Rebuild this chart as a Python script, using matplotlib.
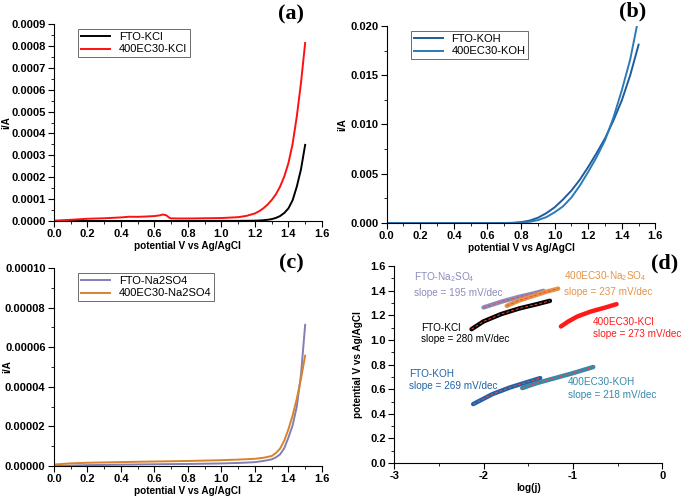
"""Four-panel LSV / Tafel figure (a)-(d)."""

import numpy as np
import matplotlib.pyplot as plt
from matplotlib.ticker import MultipleLocator, FormatStrFormatter

plt.rcParams['font.family'] = ['Liberation Sans', 'DejaVu Sans']
plt.rcParams['mathtext.fontset'] = 'custom'
plt.rcParams['mathtext.rm'] = 'Liberation Sans'

# (a) KCl
x_a = [0.0, 0.1, 0.2, 0.3, 0.4, 0.45, 0.5, 0.55, 0.6, 0.63, 0.65, 0.67, 0.69,
       0.7, 0.75, 0.8, 0.9, 1.0, 1.1, 1.15, 1.2, 1.225, 1.25, 1.275, 1.3, 1.325,
       1.35, 1.375, 1.4, 1.425, 1.45, 1.475, 1.5]
fto_kcl = [0.0, 0.3, 0.5, 0.6, 0.7, 0.8, 0.8, 0.8, 0.8, 0.8, 0.8, 0.8, 0.8,
           0.8, 0.8, 0.8, 0.9, 1.0, 1.2, 1.5, 2.0, 2.7, 4.0, 6.0, 9.0, 14.5,
           23.0, 37.0, 58.0, 95.0, 157.0, 236.0, 348.0]
ec_kcl = [2.0, 6.0, 10.7, 13.0, 16.8, 20.0, 19.5, 21.0, 23.0, 26.0, 30.0, 27.0, 15.0,
          12.5, 12.0, 12.0, 13.0, 14.0, 18.0, 24.0, 35.0, 45.0, 58.0, 75.0, 96.0, 122.0,
          157.0, 203.0, 264.0, 352.0, 477.0, 630.0, 813.0]

# (b) KOH
x_b = [0.0, 0.5, 0.7, 0.75, 0.8, 0.85, 0.9, 0.95, 1.0, 1.05, 1.1, 1.15, 1.2,
       1.25, 1.3, 1.35, 1.4, 1.45, 1.5]
fto_koh = [0.0, 0.0, 0.00001, 0.00003, 0.0001, 0.00025, 0.00054, 0.001, 0.0016,
           0.0024, 0.0033, 0.0044, 0.0057, 0.0071, 0.0086, 0.0104, 0.01245, 0.0150, 0.0181]
x_b2 = [0.0, 0.5, 0.7, 0.75, 0.8, 0.85, 0.9, 0.95, 1.0, 1.05, 1.1, 1.15, 1.2,
        1.25, 1.3, 1.35, 1.4, 1.45, 1.49]
ec_koh = [0.0, 0.0, 0.0, 0.00001, 0.00005, 0.00013, 0.0003, 0.0006, 0.0011,
          0.0017, 0.0026, 0.0038, 0.0052, 0.0067, 0.0084, 0.0107, 0.01347, 0.0166, 0.0200]

# (c) Na2SO4
x_c = [0.0, 0.1, 0.2, 0.5, 0.8, 1.0, 1.1, 1.2, 1.25, 1.3, 1.325, 1.35, 1.375,
       1.4, 1.425, 1.45, 1.475, 1.5]
fto_na = [0.0, 0.3, 0.5, 0.85, 1.1, 1.35, 1.6, 2.0, 2.6, 3.4, 4.4, 5.9, 9.0,
          14.4, 20.5, 30.0, 46.0, 71.3]
ec_na = [0.8, 1.4, 1.7, 2.2, 2.6, 3.0, 3.3, 3.7, 4.2, 5.1, 6.6, 8.8, 12.8,
         18.6, 25.5, 34.0, 44.0, 55.7]

# (d) Tafel
taf_x = {
    'fto_na': [-2.0, -1.8, -1.6, -1.45, -1.33],
    'ec_na': [-1.74, -1.6, -1.45, -1.3, -1.164],
    'fto_kcl': [-2.134, -2.0, -1.8, -1.6, -1.4, -1.257],
    'ec_kcl': [-1.134, -1.05, -0.95, -0.8, -0.65, -0.511],
    'fto_koh': [-2.116, -1.9, -1.7, -1.5, -1.366],
    'ec_koh': [-1.567, -1.4, -1.2, -1.0, -0.772],
}
taf_y = {
    'fto_na': [1.263, 1.31, 1.35, 1.375, 1.398],
    'ec_na': [1.276, 1.32, 1.355, 1.39, 1.416],
    'fto_kcl': [1.087, 1.15, 1.21, 1.255, 1.29, 1.317],
    'ec_kcl': [1.109, 1.15, 1.19, 1.23, 1.26, 1.29],
    'fto_koh': [0.479, 0.56, 0.615, 0.66, 0.69],
    'ec_koh': [0.609, 0.65, 0.69, 0.73, 0.78],
}
taf_col = {
    'fto_na': '#8c8cbc', 'ec_na': '#e39446', 'fto_kcl': '#000000',
    'ec_kcl': '#ff1a1a', 'fto_koh': '#1f63a6', 'ec_koh': '#3489ab',
}
taf_txt = {
    'fto_na': ('FTO-Na$_2$SO$_4$', 'slope = 195 mV/dec', -2.78, 1.51, 1.38),
    'ec_na': ('400EC30-Na$_2$SO$_4$', 'slope = 237 mV/dec', -1.10, 1.52, 1.39),
    'fto_kcl': ('FTO-KCl', 'slope = 280 mV/dec', -2.70, 1.10, 1.01),
    'ec_kcl': ('400EC30-KCl', 'slope = 273 mV/dec', -0.78, 1.145, 1.05),
    'fto_koh': ('FTO-KOH', 'slope = 269 mV/dec', -2.83, 0.72, 0.625),
    'ec_koh': ('400EC30-KOH', 'slope = 218 mV/dec', -1.06, 0.66, 0.55),
}

BLUE1 = '#1f5c9c'
BLUE2 = '#2b7bb6'
LABEL_FS = 7.2


def style_axes(ax):
    ax.spines['top'].set_visible(False)
    ax.spines['right'].set_visible(False)
    ax.tick_params(which='both', direction='out', labelsize=8, pad=2)
    ax.tick_params(which='major', length=4)
    ax.tick_params(which='minor', length=2)
    for lab in ax.get_xticklabels() + ax.get_yticklabels():
        lab.set_fontweight('bold')


def lsv_axes(ax, ymax, ystep, fmt, ylab_x):
    ax.set_xlim(0, 1.6)
    ax.set_ylim(0, ymax)
    ax.xaxis.set_major_locator(MultipleLocator(0.2))
    ax.xaxis.set_minor_locator(MultipleLocator(0.1))
    ax.yaxis.set_major_locator(MultipleLocator(ystep))
    ax.yaxis.set_minor_locator(MultipleLocator(ystep / 2))
    ax.yaxis.set_major_formatter(FormatStrFormatter(fmt))
    ax.xaxis.set_major_formatter(FormatStrFormatter('%.1f'))
    ax.set_ylabel('i/A', fontsize=LABEL_FS, fontweight='bold')
    ax.yaxis.set_label_coords(ylab_x, 0.5)
    ax.set_xlabel('potential V vs Ag/AgCl', fontsize=LABEL_FS, fontweight='bold', labelpad=1)
    style_axes(ax)
    leg = ax.legend(loc='upper left', bbox_to_anchor=(0.07, 1.0), fontsize=8,
                    fancybox=False, edgecolor='#555555', framealpha=1,
                    handlelength=2.6, borderpad=0.25, labelspacing=0.2)
    leg.get_frame().set_linewidth(0.6)


fig = plt.figure(figsize=(6.82, 4.98), dpi=100)

ax_a = fig.add_axes([0.079, 0.556, 0.393, 0.396])
ax_a.plot(x_a, np.array(fto_kcl) * 1e-6, color='black', lw=1.4, label='FTO-KCl')
ax_a.plot(x_a, np.array(ec_kcl) * 1e-6, color='#ff1010', lw=1.4, label='400EC30-KCl')
lsv_axes(ax_a, 0.0009, 0.0001, '%.4f', -0.16)

ax_b = fig.add_axes([0.567, 0.552, 0.394, 0.396])
ax_b.plot(x_b, fto_koh, color=BLUE1, lw=1.4, label='FTO-KOH')
ax_b.plot(x_b2, ec_koh, color=BLUE2, lw=1.4, label='400EC30-KOH')
lsv_axes(ax_b, 0.020, 0.005, '%.3f', -0.145)

ax_c = fig.add_axes([0.079, 0.064, 0.393, 0.398])
ax_c.plot(x_c, np.array(fto_na) * 1e-6, color='#8080b4', lw=1.4, label='FTO-Na2SO4')
ax_c.plot(x_c, np.array(ec_na) * 1e-6, color='#d9822b', lw=1.4, label='400EC30-Na2SO4')
lsv_axes(ax_c, 0.00010, 0.00002, '%.5f', -0.155)

ax_d = fig.add_axes([0.578, 0.070, 0.393, 0.396])
for key in taf_x:
    c = taf_col[key]
    ax_d.plot(taf_x[key], taf_y[key], color=c, lw=3.2, solid_capstyle='round')
    if key != 'ec_kcl':
        ax_d.plot(taf_x[key], taf_y[key], color='#ff4040', lw=0.7, ls=(0, (3, 2)))
    name, slope, tx, ty1, ty2 = taf_txt[key]
    ax_d.text(tx, ty1, name, color=c, fontsize=7.2, va='center')
    ax_d.text(tx, ty2, slope, color=c, fontsize=7.2, va='center')
ax_d.set_xlim(-3, 0)
ax_d.set_ylim(0, 1.6)
ax_d.xaxis.set_major_locator(MultipleLocator(1))
ax_d.xaxis.set_minor_locator(MultipleLocator(0.5))
ax_d.yaxis.set_major_locator(MultipleLocator(0.2))
ax_d.yaxis.set_minor_locator(MultipleLocator(0.1))
ax_d.yaxis.set_major_formatter(FormatStrFormatter('%.1f'))
ax_d.xaxis.set_major_formatter(FormatStrFormatter('%d'))
ax_d.set_xlabel('log(j)', fontsize=LABEL_FS, fontweight='bold', labelpad=1)
ax_d.set_ylabel('potential V vs Ag/AgCl', fontsize=LABEL_FS, fontweight='bold')
ax_d.yaxis.set_label_coords(-0.116, 0.5)
style_axes(ax_d)

for lbl, fx, fy in [('(a)', 0.427, 0.970), ('(b)', 0.927, 0.976),
                    ('(c)', 0.427, 0.470), ('(d)', 0.974, 0.470)]:
    fig.text(fx, fy, lbl, fontsize=16, fontweight='bold',
             family=['Liberation Serif', 'DejaVu Serif'], ha='center', va='center')

fig.savefig('out.png', dpi=100)
